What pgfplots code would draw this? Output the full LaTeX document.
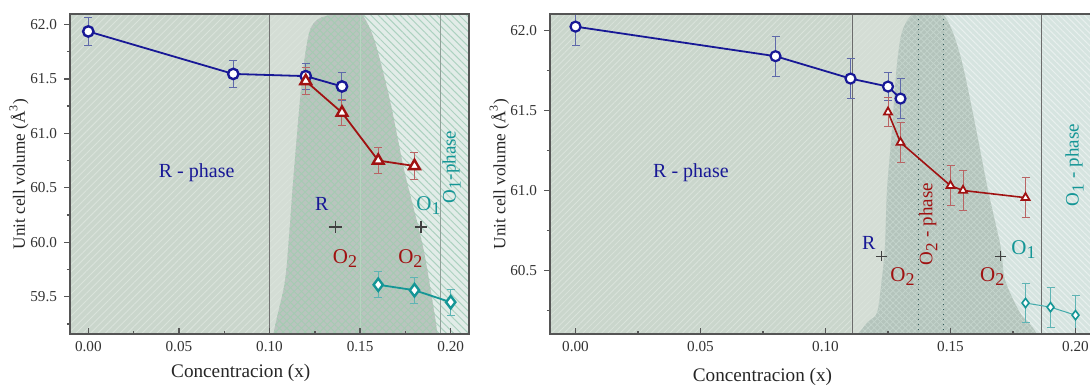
\documentclass[border=0pt]{standalone}
\usepackage{fontspec}
\setmainfont{Liberation Serif}
\usepackage{pgfplots}
\pgfplotsset{compat=1.18}
\usetikzlibrary{patterns.meta}
\newcommand\fs[1]{\fontsize{#1}{#1}\selectfont}
\definecolor{blueC}{RGB}{24,24,150}
\definecolor{blueE}{RGB}{95,105,170}
\definecolor{redC}{RGB}{160,18,18}
\definecolor{redE}{RGB}{185,100,100}
\definecolor{tealC}{RGB}{20,150,150}
\definecolor{tealE}{RGB}{95,180,180}
\definecolor{bgA}{RGB}{202,214,204}
\definecolor{hA}{RGB}{218,227,219}
\definecolor{bgB}{RGB}{212,221,213}
\definecolor{bgC}{RGB}{186,196,191}
\definecolor{hC}{RGB}{165,203,178}
\definecolor{bgD}{RGB}{226,236,232}
\definecolor{hD}{RGB}{172,210,192}
\definecolor{bgCr}{RGB}{180,196,188}
\definecolor{hCr}{RGB}{196,212,204}
\definecolor{bgDr}{RGB}{214,228,224}
\definecolor{hDr}{RGB}{232,240,238}
\definecolor{axc}{RGB}{85,85,85}
\pgfplotsset{
  common/.style={
    scale only axis, height=160pt, axis on top, clip=true,
    axis line style={axc, line width=1.2pt},
    tick pos=left, xtick align=inside, ytick align=outside,
    major tick length=3pt, minor tick length=1.6pt,
    every tick/.style={axc, line width=0.7pt},
    minor x tick num=1, minor y tick num=1,
    xtick={0,0.05,0.1,0.15,0.2},
    ytick distance=0.5,
    /pgf/number format/assume math mode=true,
    tick label style={font=\fs{7.6}, text=black!80},
    xticklabel style={/pgf/number format/.cd, fixed, fixed zerofill, precision=2},
    yticklabel style={/pgf/number format/.cd, fixed, fixed zerofill, precision=1},
    xlabel={Concentracion (x)}, ylabel={Unit cell volume (Å\textsuperscript{3})},
    xlabel style={font=\fs{9.6}, text=black!85},
    ylabel style={font=\fs{8.6}, text=black!85},
  },
}
\begin{document}
\begin{tikzpicture}
\useasboundingbox (0,0) rectangle (545pt,193.5pt);
% ---------------- left panel ----------------
\begin{axis}[common, at={(35pt,26.5pt)}, anchor=south west, width=199.5pt,
  xmin=-0.0101, xmax=0.2101, ymin=59.158, ymax=62.095,
  xlabel style={at={(axis description cs:0.428,-0.122)}, anchor=center},
  ylabel style={at={(axis description cs:-0.128,0.5)}, anchor=center}]
\addplot[draw=none, fill=bgA, postaction={pattern={Lines[angle=45,distance=2.6pt,line width=0.45pt]},pattern color=hA}]
  coordinates {(-0.02,59.0) (0.10,59.0) (0.10,62.2) (-0.02,62.2)} -- cycle;
\addplot[draw=none, fill=bgB, postaction={pattern={Lines[angle=45,distance=2.6pt,line width=0.45pt]},pattern color=hA}]
  coordinates {(0.10,59.0) (0.14,59.0) (0.14,62.2) (0.10,62.2)} -- cycle;
\addplot[draw=none, fill=bgD, postaction={pattern={Lines[angle=-45,distance=2.6pt,line width=0.5pt]},pattern color=hD}]
  coordinates {(0.14,59.0) (0.22,59.0) (0.22,62.2) (0.14,62.2)} -- cycle;
\addplot[draw=none, smooth, tension=0.5, fill=bgC,
  postaction={pattern={Lines[angle=45,distance=2.6pt,line width=0.45pt]},pattern color=hC},
  postaction={pattern={Lines[angle=-45,distance=2.6pt,line width=0.45pt]},pattern color=hC}]
  coordinates {(0.100,59.0) (0.104,59.30) (0.1086,59.65) (0.111,60.1) (0.113,60.55) (0.1168,61.3)
   (0.1195,61.7) (0.1224,61.95) (0.127,62.05) (0.135,62.09) (0.147,62.11) (0.1516,62.08)
   (0.158,61.85) (0.1665,61.30) (0.1745,60.65) (0.1847,59.96) (0.191,59.35) (0.194,59.0)} -- cycle;
\addplot[draw=gray!90!black, line width=0.5pt] coordinates {(0.10,59.0) (0.10,62.2)};
\addplot[draw=hC!80!white, line width=0.5pt] coordinates {(0.15,59.0) (0.15,62.2)};
\addplot[draw=gray!60!hD, line width=0.5pt] coordinates {(0.1945,59.0) (0.1945,62.2)};
% data
\addplot[blueC, line width=0.9pt, mark=*, mark size=2.6pt, mark options={fill=white, draw=blueC, line width=1.2pt},
  error bars/.cd, y dir=both, y explicit, error bar style={blueE, line width=0.5pt}, error mark options={rotate=90, blueE, mark size=2pt, line width=0.5pt}]
  coordinates {(0,61.935) +- (0,0.125) (0.08,61.545) +- (0,0.125) (0.12,61.525) +- (0,0.12) (0.14,61.43) +- (0,0.125)};
\addplot[redC, line width=0.9pt, mark=triangle*, mark size=3.1pt, mark options={fill=white, draw=redC, line width=1.2pt},
  error bars/.cd, y dir=both, y explicit, error bar style={redE, line width=0.5pt}, error mark options={rotate=90, redE, mark size=2pt, line width=0.5pt}]
  coordinates {(0.12,61.48) +- (0,0.12) (0.14,61.19) +- (0,0.12) (0.16,60.75) +- (0,0.12) (0.18,60.70) +- (0,0.12)};
\addplot[tealC, line width=0.9pt, mark=diamond*, mark size=3.1pt, mark options={fill=white, draw=tealC, line width=1.2pt},
  error bars/.cd, y dir=both, y explicit, error bar style={tealE, line width=0.5pt}, error mark options={rotate=90, tealE, mark size=2pt, line width=0.5pt}]
  coordinates {(0.16,59.61) +- (0,0.12) (0.18,59.56) +- (0,0.12) (0.20,59.45) +- (0,0.12)};
\addplot[only marks, mark=+, mark size=3.2pt, black!75, mark options={line width=0.6pt}] coordinates {(0.1362,60.14) (0.1836,60.14)};
\node[blueC, font=\fs{10}] at (axis cs:0.0598,60.64) {R - phase};
\node[blueC, font=\fs{10}] at (axis cs:0.1288,60.35) {R};
\node[redC, font=\fs{10.5}] at (axis cs:0.1419,59.85) {O\textsubscript{\fs{9}2}};
\node[redC, font=\fs{10.5}] at (axis cs:0.178,59.85) {O\textsubscript{\fs{9}2}};
\node[tealC, font=\fs{10.5}] at (axis cs:0.188,60.34) {O\textsubscript{\fs{9}1}};
\node[tealC, font=\fs{9.5}, rotate=90] at (axis cs:0.2005,60.69) {O\textsubscript{\fs{8.5}1}-phase};
\end{axis}
% ---------------- right panel ----------------
\begin{axis}[common, at={(275pt,26.5pt)}, anchor=south west, width=271pt,
  xmin=-0.0102, xmax=0.2066, ymin=60.102, ymax=62.104,
  xlabel style={at={(axis description cs:0.392,-0.134)}, anchor=center},
  ylabel style={at={(axis description cs:-0.0935,0.5)}, anchor=center}]
\addplot[draw=none, fill=bgA, postaction={pattern={Lines[angle=45,distance=2.2pt,line width=0.4pt]},pattern color=hA}]
  coordinates {(-0.02,60.0) (0.11,60.0) (0.11,62.2) (-0.02,62.2)} -- cycle;
\addplot[draw=none, fill=bgB, postaction={pattern={Lines[angle=45,distance=2.2pt,line width=0.4pt]},pattern color=hA}]
  coordinates {(0.11,60.0) (0.14,60.0) (0.14,62.2) (0.11,62.2)} -- cycle;
\addplot[draw=none, fill=bgDr, postaction={pattern={Lines[angle=-45,distance=2.2pt,line width=0.5pt]},pattern color=hDr}]
  coordinates {(0.14,60.0) (0.22,60.0) (0.22,62.2) (0.14,62.2)} -- cycle;
\addplot[draw=none, smooth, tension=0.5, fill=bgCr,
  postaction={pattern={Lines[angle=45,distance=2.2pt,line width=0.4pt]},pattern color=hCr},
  postaction={pattern={Lines[angle=-45,distance=2.2pt,line width=0.4pt]},pattern color=hCr}]
  coordinates {(0.108,60.0) (0.1165,60.17) (0.1206,60.235) (0.1225,60.44) (0.1238,60.65) (0.1246,61.0)
   (0.1265,61.36) (0.1285,61.775) (0.1305,61.985) (0.134,62.09) (0.140,62.13) (0.147,62.10)
   (0.151,61.985) (0.155,61.775) (0.1605,61.36) (0.1650,61.0) (0.170,60.65) (0.1718,60.44)
   (0.1778,60.235) (0.183,60.14) (0.188,60.0)} -- cycle;
\addplot[draw=gray!85!black, line width=0.4pt] coordinates {(0.1106,60.0) (0.1106,62.2)};
\addplot[draw=black!45!teal!60!gray, line width=0.5pt, dotted] coordinates {(0.137,60.0) (0.137,62.2)};
\addplot[draw=black!45!teal!60!gray, line width=0.5pt, dotted] coordinates {(0.147,60.0) (0.147,62.2)};
\addplot[draw=gray!85!black, line width=0.4pt] coordinates {(0.1864,60.0) (0.1864,62.2)};
% data
\addplot[blueC, line width=0.9pt, mark=*, mark size=2.5pt, mark options={fill=white, draw=blueC, line width=1.1pt},
  error bars/.cd, y dir=both, y explicit, error bar style={blueE, line width=0.5pt}, error mark options={rotate=90, blueE, mark size=2pt, line width=0.5pt}]
  coordinates {(0,62.025) +- (0,0.12) (0.08,61.84) +- (0,0.125) (0.11,61.70) +- (0,0.125) (0.125,61.65) +- (0,0.09) (0.13,61.575) +- (0,0.125)};
\addplot[redC, line width=0.8pt, mark=triangle*, mark size=2.3pt, mark options={fill=white, draw=redC, line width=0.9pt},
  error bars/.cd, y dir=both, y explicit, error bar style={redE, line width=0.5pt}, error mark options={rotate=90, redE, mark size=2pt, line width=0.5pt}]
  coordinates {(0.125,61.49) +- (0,0.09) (0.13,61.30) +- (0,0.125) (0.15,61.03) +- (0,0.125) (0.155,61.0) +- (0,0.125) (0.18,60.955) +- (0,0.125)};
\addplot[tealC!80!white, line width=0.5pt, mark=diamond*, mark size=2.3pt, mark options={fill=white, draw=tealC, line width=0.8pt},
  error bars/.cd, y dir=both, y explicit, error bar style={tealE, line width=0.5pt}, error mark options={rotate=90, tealE, mark size=2pt, line width=0.5pt}]
  coordinates {(0.18,60.296) +- (0,0.125) (0.19,60.27) +- (0,0.125) (0.20,60.22) +- (0,0.125)};
\addplot[only marks, mark=+, mark size=2.6pt, black!75, mark options={line width=0.5pt}] coordinates {(0.1224,60.59) (0.170,60.59)};
\node[blueC, font=\fs{10}] at (axis cs:0.0462,61.11) {R - phase};
\node[blueC, font=\fs{10}] at (axis cs:0.1173,60.67) {R};
\node[redC, font=\fs{10.5}] at (axis cs:0.131,60.46) {O\textsubscript{\fs{9}2}};
\node[redC, font=\fs{10.5}] at (axis cs:0.1669,60.46) {O\textsubscript{\fs{9}2}};
\node[redC, font=\fs{9.5}, rotate=90] at (axis cs:0.1411,60.79) {O\textsubscript{\fs{8.5}2} - phase};
\node[tealC, font=\fs{10.5}] at (axis cs:0.1794,60.63) {O\textsubscript{\fs{9}1}};
\node[tealC, font=\fs{9.5}, rotate=90] at (axis cs:0.1996,61.16) {O\textsubscript{\fs{8.5}1} - phase};
\end{axis}
\end{tikzpicture}
\end{document}
